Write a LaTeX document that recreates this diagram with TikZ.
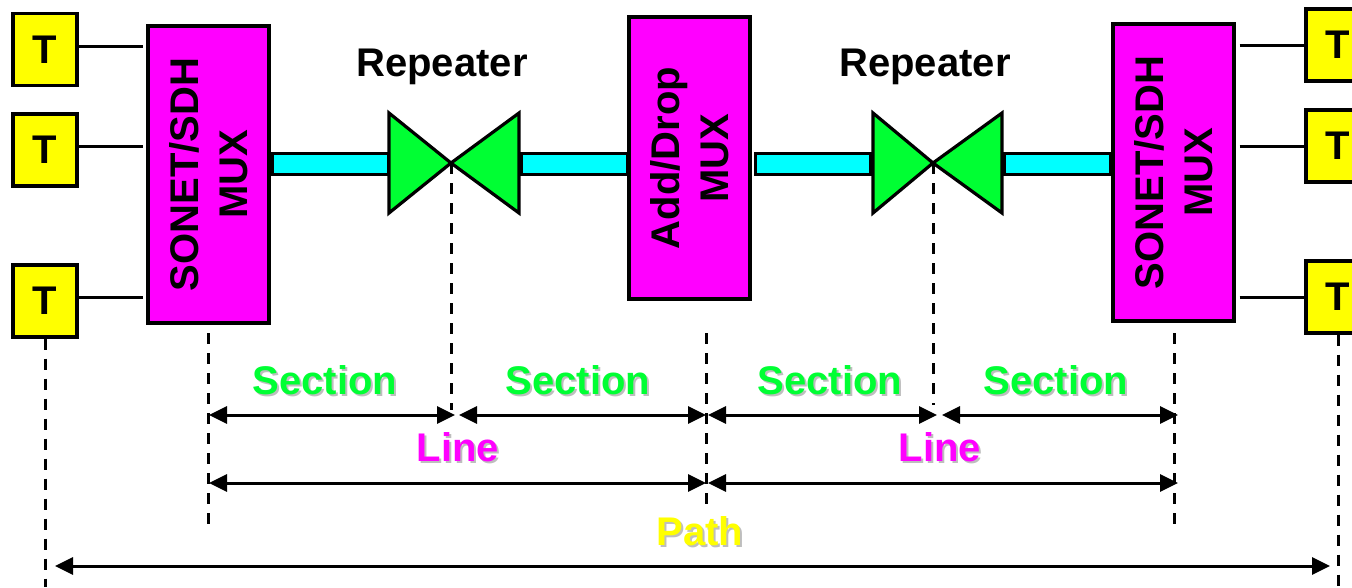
\documentclass[tikz,border=0pt]{standalone}
\usepackage{fontspec}
\setmainfont{Liberation Sans}
\usetikzlibrary{arrows.meta}
\definecolor{mag}{RGB}{255,0,255}
\definecolor{yel}{RGB}{255,255,0}
\definecolor{cya}{RGB}{0,255,255}
\definecolor{grn}{RGB}{0,255,51}
\definecolor{shd}{RGB}{190,190,190}
\tikzset{
  big/.style={font=\fontsize{40}{49}\selectfont\bfseries},
  tbox/.style={draw, line width=3.2pt, fill=yel, minimum width=64pt, minimum height=72pt, inner sep=0pt, big},
  muxbox/.style={draw, line width=3.2pt, fill=mag, minimum width=121pt, inner sep=0pt},
  muxtext/.style={big, align=center, rotate=90, inner sep=0pt},
  fiber/.style={draw, line width=3pt, fill=cya},
  amp/.style={draw, line width=3.2pt, fill=grn, line join=miter},
  feed/.style={line width=3pt},
  guide/.style={line width=3pt, dash pattern=on 11pt off 9pt},
  span/.style={line width=3pt, {Triangle[length=18pt,width=17pt]}-{Triangle[length=18pt,width=17pt]}},
  lbl/.style={big, anchor=base, inner sep=0pt},
  shadowed/.style={lbl, text=shd}
}
\begin{document}
\begin{tikzpicture}[x=1pt,y=-1pt]
\useasboundingbox (0,0) rectangle (1352,587);

% terminals
\node[tbox] (tl1) at (45,49.5) {T};
\node[tbox] (tl2) at (45,150) {T};
\node[tbox] (tl3) at (45,301) {T};
\node[tbox] (tr1) at (1338,45) {T};
\node[tbox] (tr2) at (1338,146) {T};
\node[tbox] (tr3) at (1338,297) {T};

% multiplexers
\node[muxbox, minimum height=297pt] (muxl) at (208.5,174.5) {};
\node[muxtext] (muxlt) at (muxl.center) {SONET/SDH\\MUX};
\node[muxbox, minimum height=282pt] (adm) at (689.5,158) {};
\node[muxtext] (admt) at (adm.center) {Add/Drop\\MUX};
\node[muxbox, minimum height=297pt] (muxr) at (1173.5,172.5) {};
\node[muxtext] (muxrt) at (muxr.center) {SONET/SDH\\MUX};

% tributary feeds
\draw[feed] ([yshift=3.5pt]tl1.east) -- ([yshift=3.5pt,xshift=-3pt]tl1.east -| muxl.west);
\draw[feed] ([yshift=4pt]tl2.east) -- ([yshift=4pt,xshift=-3pt]tl2.east -| muxl.west);
\draw[feed] ([yshift=4pt]tl3.east) -- ([yshift=4pt,xshift=-3pt]tl3.east -| muxl.west);
\draw[feed] ([xshift=4pt]muxr.east |- tr1.west) -- (tr1.west);
\draw[feed] ([xshift=4pt]muxr.east |- tr2.west) -- (tr2.west);
\draw[feed] ([xshift=4pt]muxr.east |- tr3.west) -- (tr3.west);

% fibre spans
\draw[fiber] (272,153) rectangle (388,174);
\draw[fiber] (521,153) rectangle (627,174);
\draw[fiber] (755,153) rectangle (870,174);
\draw[fiber] (1004,153) rectangle (1110,174);

% repeaters
\coordinate (rp1) at (451,163);
\coordinate (rp2) at (933,163);
\draw[amp] (389,113) -- (389,213) -- (rp1) -- cycle;
\draw[amp] (519,113) -- (519,213) -- (rp1) -- cycle;
\draw[amp] (873,113) -- (873,213) -- (rp2) -- cycle;
\draw[amp] (1002,113) -- (1002,213) -- (rp2) -- cycle;
\node[lbl] (rep1) at (442,76) {Repeater};
\node[lbl] (rep2) at (925,76) {Repeater};

% reference guides
\coordinate (gl) at (208,333);  \coordinate (glb) at (208,529);
\coordinate (gm) at (706,333);  \coordinate (gmb) at (706,510);
\coordinate (gr) at (1174,333); \coordinate (grb) at (1174,529);
\coordinate (g1b) at (451,410); \coordinate (g2b) at (933,405);
\coordinate (tlb) at (45,587);  \coordinate (trb) at (1338,587);
\draw[guide] (gl) -- (glb);
\draw[guide] (gm) -- (gmb);
\draw[guide] (gr) -- (grb);
\draw[guide] (rp1) -- (g1b);
\draw[guide] (rp2) -- (g2b);
\draw[guide] (tl3.south) -- (tlb);
\draw[guide] (tr3.south) -- (trb);

% section spans
\coordinate (s1a) at (209,415); \coordinate (s1b) at (455,415);
\coordinate (s2a) at (459,415); \coordinate (s2b) at (706,415);
\coordinate (s3a) at (708,415); \coordinate (s3b) at (937,415);
\coordinate (s4a) at (942,415); \coordinate (s4b) at (1178,415);
\draw[span] (s1a) -- (s1b);
\draw[span] (s2a) -- (s2b);
\draw[span] (s3a) -- (s3b);
\draw[span] (s4a) -- (s4b);

% line spans
\coordinate (l1a) at (209,483); \coordinate (l1b) at (706,483);
\coordinate (l2a) at (708,483); \coordinate (l2b) at (1178,483);
\draw[span] (l1a) -- (l1b);
\draw[span] (l2a) -- (l2b);

% path span
\coordinate (pa) at (55,566); \coordinate (pb) at (1330,566);
\draw[span] (pa) -- (pb);

% labels with drop shadow
\foreach \n/\x in {1/325,2/578,3/830,4/1056}{
  \node[shadowed] (sec\n s) at (\x+2,396) {Section};
  \node[lbl, text=grn] (sec\n) at (\x,394) {Section};
}
\foreach \n/\x in {1/458,2/940}{
  \node[shadowed] (lin\n s) at (\x+2,463) {Line};
  \node[lbl, text=mag] (lin\n) at (\x,461) {Line};
}
\node[shadowed] (pths) at (702,547) {Path};
\node[lbl, text=yel] (pth) at (700,545) {Path};
\end{tikzpicture}
\end{document}
